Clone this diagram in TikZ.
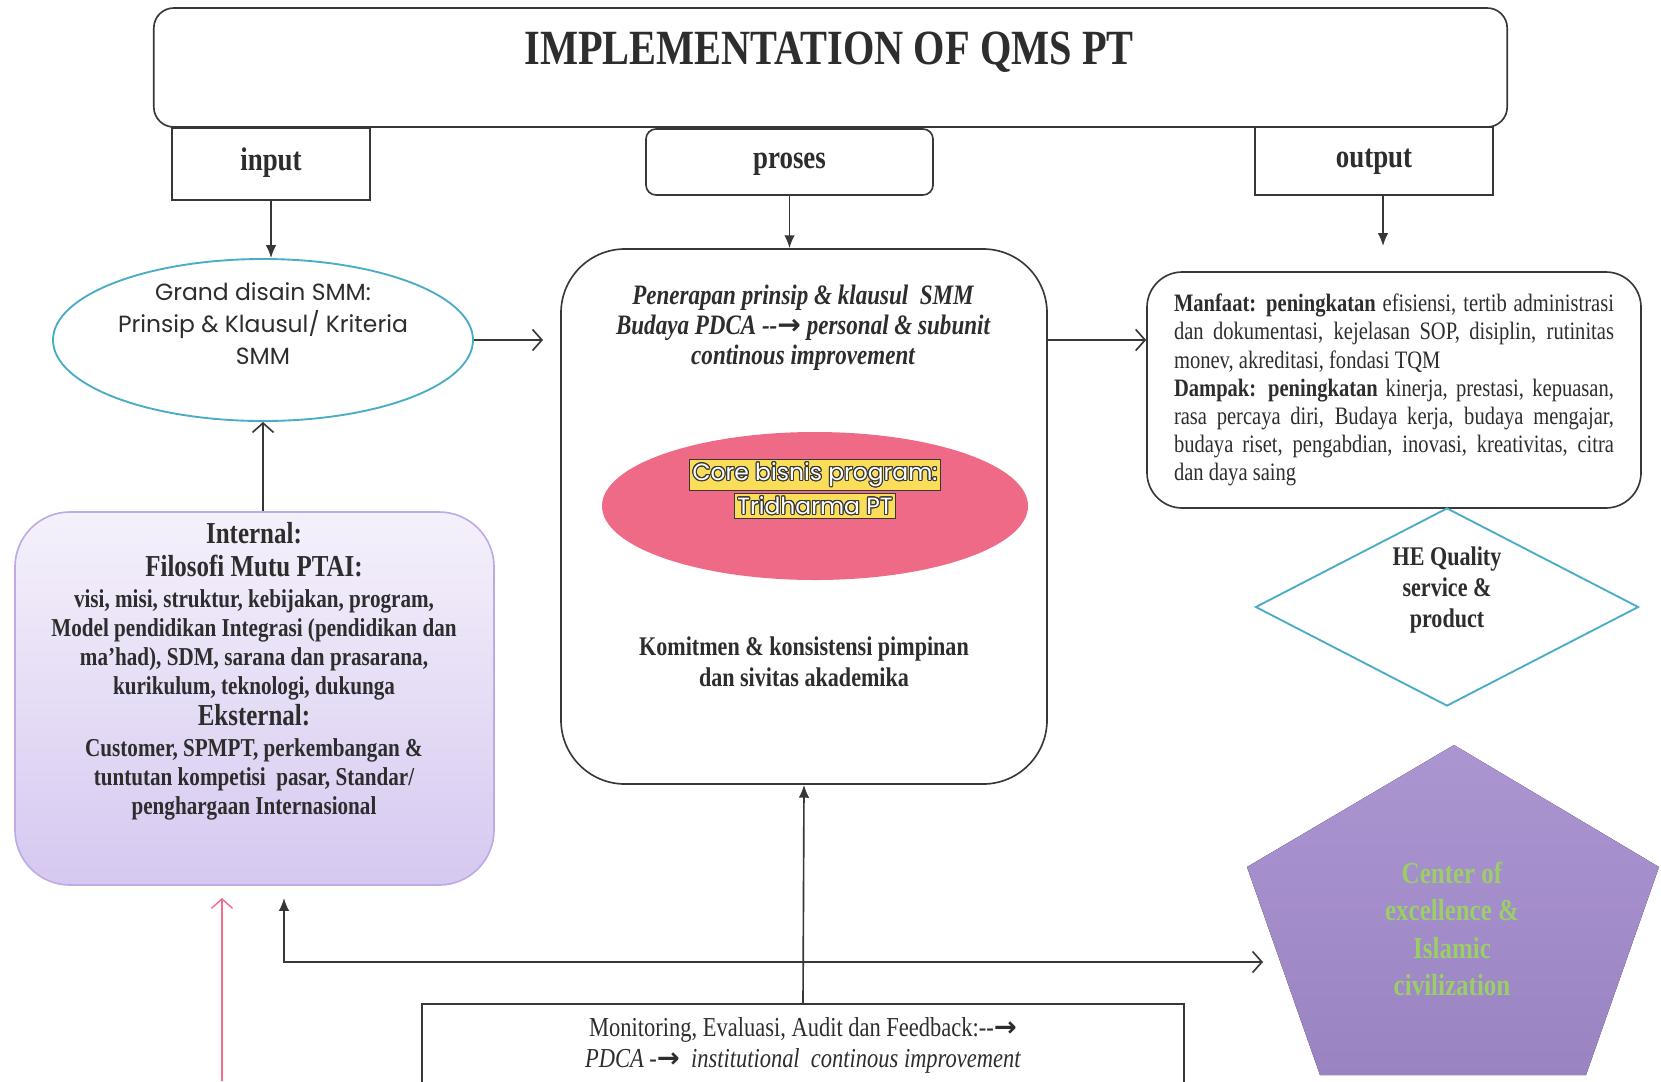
\documentclass[tikz,border=0pt]{standalone}
\usepackage{fontspec}
\setmainfont{Liberation Serif}[FakeStretch=0.82]
\newfontfamily\gothic{Poppins}
\newfontfamily\arrowfont{DejaVu Sans}
\usepackage{contour}
\usetikzlibrary{shapes.geometric,positioning,arrows.meta}

\definecolor{qmsline}{RGB}{55,55,55}
\definecolor{qmstext}{RGB}{45,45,45}
\definecolor{qmscyan}{RGB}{75,172,198}
\definecolor{qmspink}{RGB}{239,106,134}
\definecolor{qmsyellow}{RGB}{250,222,90}
\definecolor{qmslilac}{RGB}{190,170,228}
\definecolor{qmslilactop}{RGB}{245,241,251}
\definecolor{qmslilacbot}{RGB}{214,200,240}
\definecolor{qmspurple}{RGB}{162,138,204}
\definecolor{qmsgreen}{RGB}{155,205,105}
\definecolor{qmsrose}{RGB}{240,110,140}

\setlength{\fboxsep}{1pt}
\setlength{\fboxrule}{0.5pt}
\contourlength{0.45pt}
\newcommand{\qmsto}{{\arrowfont\bfseries →}}

\begin{document}
\begin{tikzpicture}[x=0.015cm, y=-0.015cm,
    every node/.style={text=qmstext},
    frame/.style={rectangle, draw=qmsline, line width=0.7pt, inner sep=0pt},
    headlabel/.style={font=\fontsize{14}{17}\selectfont\bfseries, text height=1.6ex, text depth=0.3ex},
    fillarrow/.style={draw=qmsline, line width=0.7pt, -{Latex[length=5.5pt,width=4.5pt]}},
    openarrow/.style={draw=qmsline, line width=0.7pt, -{Straight Barb[length=4pt,width=9pt]}}]
    \clip (0,0) rectangle (1661,1081);
    % Header
    \node (title) [frame, rounded corners=0.3cm, minimum width=20.3cm, minimum height=1.785cm] at (830.5,67.5) {};
    \node (titletext) [font=\fontsize{21}{25}\selectfont\bfseries] at (829,52) {IMPLEMENTATION OF QMS PT};
    \node (inputbox) [frame, headlabel, minimum width=2.97cm, minimum height=1.08cm] at (271,164) {input};
    \node (prosesbox) [frame, headlabel, rounded corners=0.15cm, minimum width=4.305cm, minimum height=0.99cm] at (789.5,162) {proses};
    \node (outputbox) [frame, headlabel, minimum width=3.57cm, minimum height=1.02cm] at (1374,161) {output};
    % Input side
    \node (grand) [ellipse, draw=qmscyan, line width=0.8pt, minimum width=6.3cm, minimum height=2.43cm] at (263,340) {};
    \node (grandtext) [align=center, font=\gothic\fontsize{10}{13.6}\selectfont] at (263,324) {Grand disain SMM:\\Prinsip \& Klausul/ Kriteria\\SMM};
    \node (filosofi) [rectangle, rounded corners=0.825cm, draw=qmslilac, line width=0.7pt, top color=qmslilactop, bottom color=qmslilacbot, minimum width=7.185cm, minimum height=5.595cm] at (254.5,698.5) {};
    \node (filosofitext) [align=center, font=\fontsize{11}{12.3}\selectfont\bfseries] at (254,671) {{\fontsize{13}{15}\selectfont Internal:}\\[2pt]
        {\fontsize{13}{15}\selectfont Filosofi Mutu PTAI:}\\[1pt]
        visi, misi, struktur, kebijakan, program,\\
        Model pendidikan Integrasi (pendidikan dan\\
        ma’had), SDM, sarana dan prasarana,\\
        kurikulum, teknologi, dukunga\\[1pt]
        {\fontsize{13}{15}\selectfont Eksternal:}\\[1pt]
        Customer, SPMPT, perkembangan \&\\
        tuntutan kompetisi\ \ pasar, Standar/\\
        penghargaan Internasional};
    % Process
    \node (process) [frame, rounded corners=0.96cm, minimum width=7.29cm, minimum height=8.025cm] at (804,516.5) {};
    \node (processtext) [align=center, font=\fontsize{12}{12.8}\selectfont\bfseries\itshape] at (803,328) {Penerapan prinsip \& klausul\ \ SMM\\Budaya PDCA -{}-\qmsto{} personal \& subunit\\continous improvement};
    \node (core) [ellipse, fill=qmspink, minimum width=6.39cm, minimum height=2.22cm] at (815,506) {};
    \node (coretext) [align=center, text=white, font=\gothic\fontsize{10}{14.5}\selectfont] at (815,489) {\fcolorbox{qmsline}{qmsyellow}{\contour{qmsline}{Core bisnis program:}}\\\fcolorbox{qmsline}{qmsyellow}{\contour{qmsline}{Tridharma PT}}};
    \node (komitmen) [align=center, font=\fontsize{11.5}{13.2}\selectfont\bfseries] at (804,662) {Komitmen \& konsistensi pimpinan\\dan sivitas akademika};
    % Output side
    \node (manfaat) [frame, rounded corners=0.53cm, minimum width=7.41cm, minimum height=3.54cm, text width=6.6cm, align=justify, font=\fontsize{10.7}{12}\selectfont] at (1394,390)
        {\textbf{Manfaat: peningkatan} efisiensi, tertib administrasi\linebreak
        dan dokumentasi, kejelasan SOP, disiplin, rutinitas\linebreak
        monev, akreditasi, fondasi TQM\\
        \textbf{Dampak: peningkatan} kinerja, prestasi, kepuasan,\linebreak
        rasa percaya diri, Budaya kerja, budaya mengajar,\linebreak
        budaya riset, pengabdian, inovasi, kreativitas, citra\linebreak
        dan daya saing};
    \node (quality) [diamond, draw=qmscyan, line width=0.8pt, inner sep=0pt, minimum width=5.745cm, minimum height=2.97cm] at (1447,607) {};
    \node (qualitytext) [align=center, font=\fontsize{11.5}{13.4}\selectfont\bfseries] at (1447,590) {HE Quality\\service \&\\product};
    \fill[top color=qmspurple!90!white, bottom color=qmspurple!95!black] (1454,745) -- (1659,867) -- (1586,1075) -- (1320,1075) -- (1247,867) -- cycle;
    \node (centertext) [align=center, text=qmsgreen, font=\fontsize{13}{16}\selectfont\bfseries] at (1452,929) {Center of\\excellence \&\\Islamic\\civilization};
    % Feedback
    \node (monev) [frame, minimum width=11.43cm, minimum height=1.5cm] at (803,1054) {};
    \node (monevtext) [align=center, font=\fontsize{11.7}{13.2}\selectfont] at (803,1045) {Monitoring, Evaluasi, Audit dan Feedback:-{}-\qmsto\\\textit{PDCA -\qmsto\ \ institutional\ \ continous improvement}};
    \coordinate (outtip) at (1383,246);
    \coordinate (grandtip) at (543,340);
    \coordinate (fbstart) at (284,898);
    \coordinate (fbend) at (1263,962);
    \coordinate (pinkfoot) at (222,1081);
    % Arrows
    \draw[fillarrow] (inputbox.south) -- (inputbox.south |- grand.north);
    \draw[fillarrow] (prosesbox.south) -- (prosesbox.south |- process.north);
    \draw[fillarrow] (outputbox.south -| outtip) -- (outtip);
    \draw[openarrow] (grand.east) -- (grandtip);
    \draw[openarrow] (process.east |- grand.east) -- (manfaat.west |- grand.east);
    \draw[openarrow] (grand.south |- filosofi.north) -- (grand.south);
    \draw[fillarrow] (monev.north) -- (process.south);
    \draw[draw=qmsline, line width=0.7pt, {Latex[length=5.5pt,width=4.5pt]}-{Straight Barb[length=4pt,width=9pt]}] (fbstart) |- (fbend);
    \draw[draw=qmsrose, line width=0.6pt, -{Straight Barb[length=4pt,width=9pt]}] (pinkfoot) -- (pinkfoot |- fbstart);
\end{tikzpicture}
\end{document}
